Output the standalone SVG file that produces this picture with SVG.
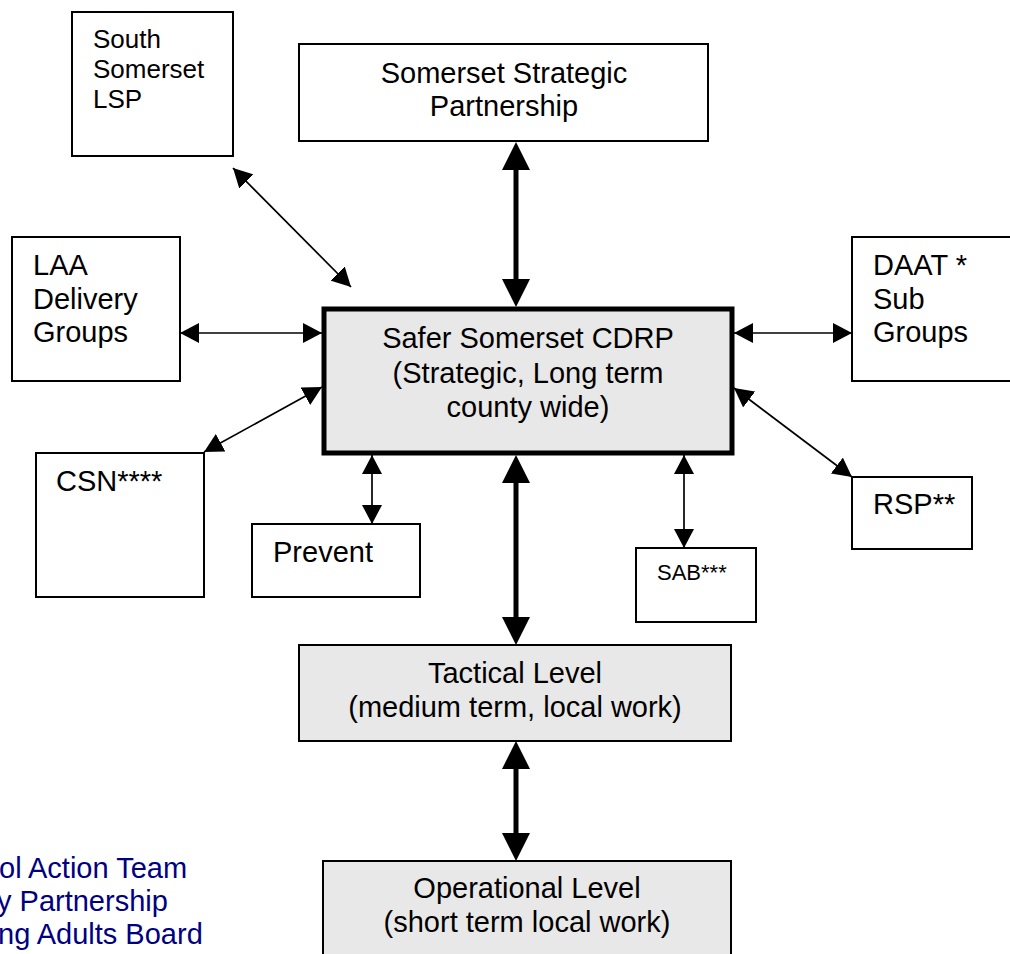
<svg xmlns="http://www.w3.org/2000/svg" width="1010" height="954" viewBox="0 0 1010 954">
<style>
  .box { fill: #ffffff; stroke: #000000; stroke-width: 2; }
  .grey { fill: #e8e8e8; stroke: #000000; stroke-width: 2; }
  .main { fill: #e8e8e8; stroke: #000000; stroke-width: 5; }
  text { font-family: "Liberation Sans", Arial, sans-serif; font-size: 29px; fill: #000000; }
  .mid { text-anchor: middle; }
  .legend { fill: #000080; }
  .thin { stroke: #000000; stroke-width: 1.7; fill: none; marker-start: url(#ah); marker-end: url(#ah); }
  .thick { stroke: #000000; stroke-width: 5; fill: none; marker-start: url(#ahb); marker-end: url(#ahb); }
</style>
<defs>
  <marker id="ah" markerUnits="userSpaceOnUse" viewBox="0 0 19 20" markerWidth="19" markerHeight="20" refX="19" refY="10" orient="auto-start-reverse">
    <path d="M0,0 L19,10 L0,20 z" fill="#000000"/>
  </marker>
  <marker id="ahb" markerUnits="userSpaceOnUse" viewBox="0 0 28 28" markerWidth="28" markerHeight="28" refX="0" refY="14" orient="auto-start-reverse">
    <path d="M0,0 L28,14 L0,28 z" fill="#000000"/>
  </marker>
</defs>
<rect width="1010" height="954" fill="#ffffff"/>

<g id="south-somerset-lsp">
  <rect class="box" x="72" y="12" width="161" height="144"/>
  <text x="93" y="48" style="font-size:26px">South</text>
  <text x="93" y="78" style="font-size:26px">Somerset</text>
  <text x="93" y="108" style="font-size:26px">LSP</text>
</g>

<g id="somerset-strategic-partnership">
  <rect class="box" x="299" y="44" width="409" height="97"/>
  <text class="mid" x="504" y="83">Somerset Strategic</text>
  <text class="mid" x="504" y="116">Partnership</text>
</g>

<g id="laa-delivery-groups">
  <rect class="box" x="12" y="237" width="168" height="144"/>
  <text x="33" y="275">LAA</text>
  <text x="33" y="309">Delivery</text>
  <text x="33" y="342">Groups</text>
</g>

<g id="safer-somerset-cdrp">
  <rect class="main" x="324" y="309" width="408" height="144"/>
  <text class="mid" x="528" y="348">Safer Somerset CDRP</text>
  <text class="mid" x="528" y="383">(Strategic, Long term</text>
  <text class="mid" x="528" y="417">county wide)</text>
</g>

<g id="daat-sub-groups">
  <rect class="box" x="852" y="237" width="200" height="144"/>
  <text x="873" y="275">DAAT *</text>
  <text x="873" y="309">Sub</text>
  <text x="873" y="342">Groups</text>
</g>

<g id="csn">
  <rect class="box" x="36" y="453" width="168" height="144"/>
  <text x="56" y="491">CSN****</text>
</g>

<g id="prevent">
  <rect class="box" x="252" y="524" width="168" height="73"/>
  <text x="273" y="562">Prevent</text>
</g>

<g id="sab">
  <rect class="box" x="636" y="548" width="120" height="74"/>
  <text x="657" y="580" style="font-size:22px">SAB***</text>
</g>

<g id="rsp">
  <rect class="box" x="852" y="477" width="120" height="72"/>
  <text x="873" y="514">RSP**</text>
</g>

<g id="tactical-level">
  <rect class="grey" x="299" y="645" width="432" height="96"/>
  <text class="mid" x="515" y="683">Tactical Level</text>
  <text class="mid" x="515" y="717">(medium term, local work)</text>
</g>

<g id="operational-level">
  <rect class="grey" x="323" y="861" width="408" height="110"/>
  <text class="mid" x="527" y="898">Operational Level</text>
  <text class="mid" x="527" y="932">(short term local work)</text>
</g>

<g id="legend">
  <text class="legend" x="-1" y="878">ol Action Team</text>
  <text class="legend" x="-3" y="911">y Partnership</text>
  <text class="legend" x="-2" y="944">ng Adults Board</text>
</g>

<g id="connectors">
  <line class="thin" x1="233" y1="168" x2="351" y2="287"/>
  <line class="thick" x1="516" y1="170" x2="516" y2="279"/>
  <line class="thin" x1="180" y1="333" x2="322" y2="333"/>
  <line class="thin" x1="734" y1="333" x2="852" y2="333"/>
  <line class="thin" x1="204" y1="452" x2="322" y2="387"/>
  <line class="thin" x1="734" y1="388" x2="852" y2="477"/>
  <line class="thin" x1="372" y1="455" x2="372" y2="524"/>
  <line class="thin" x1="684" y1="455" x2="684" y2="548"/>
  <line class="thick" x1="516" y1="483" x2="516" y2="617"/>
  <line class="thick" x1="516" y1="769" x2="516" y2="833"/>
</g>
</svg>
